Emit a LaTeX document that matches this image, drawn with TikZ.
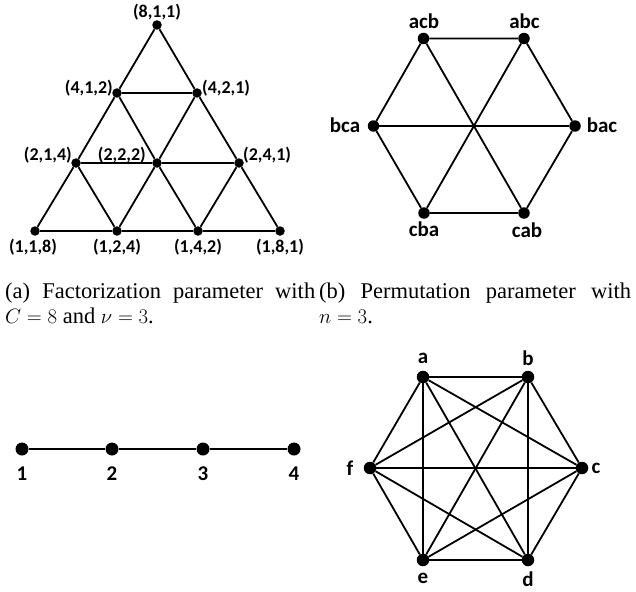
\documentclass[tikz,border=0pt]{standalone}
\usepackage[no-math]{fontspec}
\setmainfont{Liberation Serif}
\newfontfamily\labfont{Carlito}
\tikzset{
  vtx/.style={circle,fill=black,inner sep=0pt,minimum size=#1},
  vtx/.default=10pt,
  edge/.style={line width=1.8pt},
  tlab/.style={font=\labfont\bfseries\fontsize{18}{18}\selectfont,inner sep=0pt},
  hlab/.style={font=\labfont\bfseries\fontsize{21}{21}\selectfont,inner sep=0pt},
  captext/.style={font=\fontsize{22.5}{25}\selectfont,align=justify,anchor=north west,inner sep=0pt}
}
\begin{document}
\begin{tikzpicture}[x=1pt,y=-1pt]
\useasboundingbox (0,0) rectangle (636,591);
% (a) triangle lattice
\node[vtx=9.5pt] (t811) at (157,25) {};
\node[vtx=9.5pt] (t412) at (117,93) {};
\node[vtx=9.5pt] (t421) at (197,93) {};
\node[vtx=9.5pt] (t214) at (76,163) {};
\node[vtx=9.5pt] (t222) at (157,163) {};
\node[vtx=9.5pt] (t241) at (239,163) {};
\node[vtx=9.5pt] (t118) at (35,231) {};
\node[vtx=9.5pt] (t124) at (117,231) {};
\node[vtx=9.5pt] (t142) at (198,231) {};
\node[vtx=9.5pt] (t181) at (280,231) {};
\draw[edge] (t412) -- (t421);
\draw[edge] (t214) -- (t222) -- (t241);
\draw[edge] (t118) -- (t124) -- (t142) -- (t181);
\draw[edge] (t118) -- (t214) -- (t412) -- (t811);
\draw[edge] (t124) -- (t222) -- (t421);
\draw[edge] (t142) -- (t241);
\draw[edge] (t181) -- (t241) -- (t421) -- (t811);
\draw[edge] (t142) -- (t222) -- (t412);
\draw[edge] (t124) -- (t214);
\node[tlab] (l811) at (157,12) {(8,1,1)};
\node[tlab,anchor=east] (l412) at (113,88) {(4,1,2)};
\node[tlab,anchor=west] (l421) at (202,88) {(4,2,1)};
\node[tlab,anchor=east] (l214) at (72,155) {(2,1,4)};
\node[tlab,anchor=east] (l222) at (146,155) {(2,2,2)};
\node[tlab,anchor=west] (l241) at (243,155) {(2,4,1)};
\node[tlab] (l118) at (33,247) {(1,1,8)};
\node[tlab] (l124) at (117,247) {(1,2,4)};
\node[tlab] (l142) at (198,247) {(1,4,2)};
\node[tlab] (l181) at (280,247) {(1,8,1)};
% (b) hexagon
\node[vtx=11.5pt] (acb) at (423.5,38.5) {};
\node[vtx=11.5pt] (abc) at (524,38.5) {};
\node[vtx=11.5pt] (bca) at (373.5,126) {};
\node[vtx=11.5pt] (bac) at (575,126) {};
\node[vtx=11.5pt] (cba) at (424,213) {};
\node[vtx=11.5pt] (cab) at (524,213) {};
\draw[edge] (acb) -- (abc) -- (bac) -- (cab) -- (cba) -- (bca) -- (acb);
\draw[edge] (acb) -- (cab);
\draw[edge] (abc) -- (cba);
\draw[edge] (bca) -- (bac);
\node[hlab] (lacb) at (424,21) {acb};
\node[hlab] (labc) at (524.5,21) {abc};
\node[hlab] (lbca) at (345,125) {bca};
\node[hlab] (lbac) at (602,125) {bac};
\node[hlab] (lcba) at (424,229) {cba};
\node[hlab] (lcab) at (527,230) {cab};
% captions
\node[captext,text width=310pt] (capa) at (5,283) {(a) Factorization parameter with\linebreak $C=8$ and $\nu=3$.};
\node[captext,text width=312pt] (capb) at (319,283) {(b) Permutation parameter with\linebreak $n=3$.};
% (c) path
\node[vtx=13pt] (n1) at (22,449) {};
\node[vtx=13pt] (n2) at (112,449) {};
\node[vtx=13pt] (n3) at (203,449) {};
\node[vtx=13pt] (n4) at (294,449) {};
\draw[edge] (n1) -- (n2) -- (n3) -- (n4);
\node[hlab] (l1) at (22,474) {1};
\node[hlab] (l2) at (112,474) {2};
\node[hlab] (l3) at (203,474) {3};
\node[hlab] (l4) at (294,474) {4};
% (d) complete graph
\node[vtx=12.5pt] (a) at (423,377) {};
\node[vtx=12.5pt] (b) at (528,377) {};
\node[vtx=12.5pt] (c) at (582,468) {};
\node[vtx=12.5pt] (d) at (528,560) {};
\node[vtx=12.5pt] (e) at (423,560) {};
\node[vtx=12.5pt] (f) at (370,468) {};
\foreach \u/\v in {a/b,a/c,a/d,a/e,a/f,b/c,b/d,b/e,b/f,c/d,c/e,c/f,d/e,d/f,e/f}
  \draw[edge] (\u) -- (\v);
\node[hlab] (la) at (423,358) {a};
\node[hlab] (lb) at (528,358) {b};
\node[hlab] (lc) at (596,468) {c};
\node[hlab] (ld) at (528,579) {d};
\node[hlab] (le) at (423,578) {e};
\node[hlab] (lf) at (350,468) {f};
\end{tikzpicture}
\end{document}
